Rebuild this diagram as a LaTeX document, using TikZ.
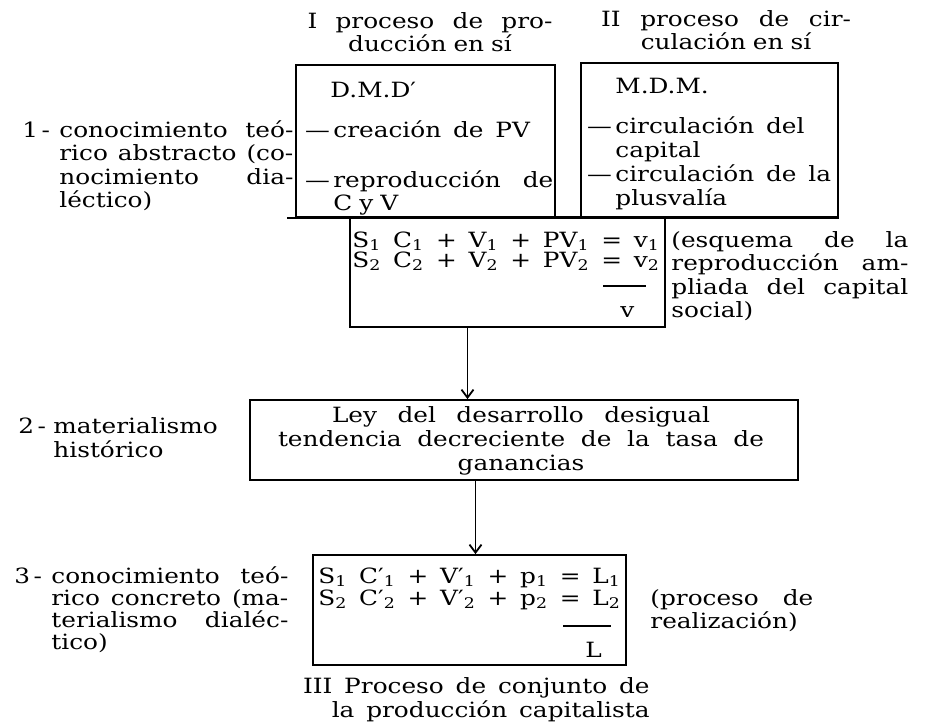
\documentclass[tikz,border=0pt]{standalone}
\usepackage{fontspec}
\setmainfont{DejaVu Serif}[FakeStretch=1.18,WordSpace=1.5]
\usetikzlibrary{arrows.meta}
\newcommand{\Ind}[1]{\textsubscript{#1}}
\newcommand{\jline}[1]{{\spaceskip=0pt\xspaceskip=0pt\makebox[\linewidth][s]{#1}}\\}

\begin{document}
\begin{tikzpicture}[x=0.5pt, y=-0.5pt,
    font=\fontsize{10.5}{11.8}\selectfont,
    frame/.style={draw, line width=0.9pt, inner sep=0},
    txt/.style={inner sep=0, anchor=base west, align=left},
    arr/.style={-{Straight Barb[length=4pt,width=6pt]}, line width=0.9pt}]
  \useasboundingbox (0,0) rectangle (926,725);

  % column heads
  \node[inner sep=0, anchor=base, align=center, text width=122.5pt]
    (hdrI) at (430,28) {\jline{I proceso de pro-}ducción en sí};
  \node[inner sep=0, anchor=base, align=center, text width=125pt]
    (hdrII) at (726,26) {\jline{II proceso de cir-}culación en sí};

  % frames
  \node[frame, minimum width=129.5pt, minimum height=76pt]
    (procI) at (425.5,141) {};
  \node[frame, minimum width=128.5pt, minimum height=77pt]
    (procII) at (709.5,140) {};
  \draw[line width=0.9pt] ([xshift=-4pt]procI.south west) -- (procII.south east);

  \node[frame, minimum width=157.5pt, minimum height=55pt]
    (esquema) at (507.5,272) {};
  \node[frame, minimum width=274pt, minimum height=40pt]
    (ley) at (524,440) {};
  \node[frame, minimum width=156.5pt, minimum height=55pt]
    (realiz) at (469.5,610) {};

  % 1
  \node[txt] (n1) at (22,137) {1\,-};
  \node[txt, text width=117pt] (lab1) at (59,137)
    {\jline{conocimiento teó-}\jline{rico abstracto (co-}\jline{nocimiento dia-}léctico)};

  \node[txt] (dmd) at (330,97) {D.M.D′};
  \node[txt] (creac) at (333,137) {\llap{—\,}creación de PV};
  \node[txt, text width=110pt] (reprod) at (333,187)
    {\llap{—\,}\jline{reproducción de}C y V};

  \node[txt] (mdm) at (615,93) {M.D.M.};
  \node[txt] (circcap) at (615,157) {\llap{—\,}circulación del\\capital};
  \node[txt] (circpv) at (615,205) {\llap{—\,}circulación de la\\plusvalía};

  \node[txt, font=\fontsize{10.5}{10}\selectfont] (form1) at (352,267)
    {S\Ind{1} C\Ind{1} + V\Ind{1} + PV\Ind{1} = v\Ind{1}\\
     S\Ind{2} C\Ind{2} + V\Ind{2} + PV\Ind{2} = v\Ind{2}};
  \draw[line width=0.9pt] (603,286) -- (646,286);
  \node[txt] (vtot) at (620,317) {v};

  \node[txt, text width=118.5pt] (esqtxt) at (671,247)
    {\jline{(esquema de la}\jline{reproducción am-}\jline{pliada del capital}social)};

  % 2
  \node[txt] (n2) at (18,433) {2\,-};
  \node[txt] (lab2) at (53,457) {materialismo\\histórico};

  \node[inner sep=0, anchor=base, align=center] (leytxt) at (521,470)
    {\makebox[189pt][s]{Ley del desarrollo desigual}\\
     \makebox[243pt][s]{tendencia decreciente de la tasa de}\\
     ganancias};

  % 3
  \node[txt] (n3) at (14,583) {3\,-};
  \node[txt, text width=118.5pt, font=\fontsize{10.5}{11}\selectfont] (lab3) at (51,583)
    {\jline{conocimiento teó-}\jline{rico concreto (ma-}\jline{terialismo dialéc-}tico)};

  \node[txt, font=\fontsize{10.5}{9}\selectfont] (form2) at (318,605)
    {S\Ind{1} C′\Ind{1} + V′\Ind{1} + p\Ind{1} = L\Ind{1}\\
     S\Ind{2} C′\Ind{2} + V′\Ind{2} + p\Ind{2} = L\Ind{2}};
  \draw[line width=0.9pt] (563,626) -- (611,626);
  \node[txt] (ltot) at (585,657) {L};

  \node[txt, text width=81.5pt] (proctxt) at (650,605)
    {\jline{(proceso de}realización)};

  \node[inner sep=0, anchor=base east, align=right, font=\fontsize{10.5}{10}\selectfont]
    (conj) at (650,717) {III Proceso de conjunto de\\la producción capitalista};

  % arrows
  \coordinate (a1) at ([xshift=-20pt]esquema.south);
  \draw[arr] (a1) -- (a1 |- ley.north);
  \coordinate (a2) at ([xshift=3pt]realiz.north);
  \draw[arr] (a2 |- ley.south) -- (a2);
\end{tikzpicture}
\end{document}
